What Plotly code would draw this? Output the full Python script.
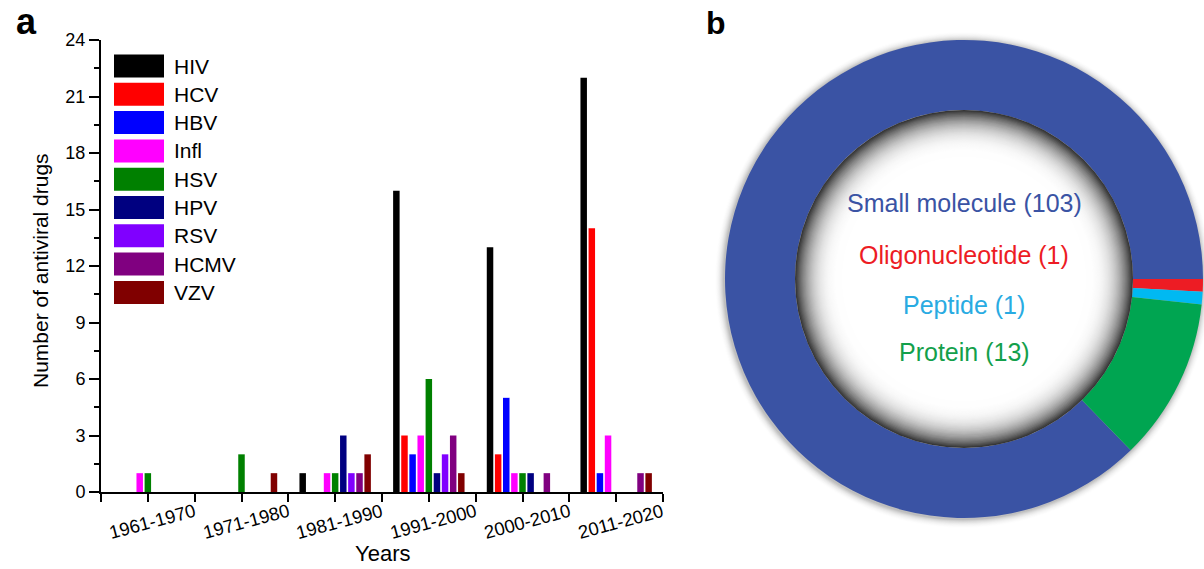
import plotly.graph_objects as go

W, H = 1204, 569

# ---- panel a: antiviral drugs approved per decade ----
decades = ["1961-1970", "1971-1980", "1981-1990", "1991-2000", "2000-2010", "2011-2020"]
viruses = ["HIV", "HCV", "HBV", "Infl", "HSV", "HPV", "RSV", "HCMV", "VZV"]
virus_colors = ["#000000", "#FF0000", "#0000FF", "#FF00FF", "#008000",
                "#000080", "#8000FF", "#800080", "#800000"]

hiv = [0, 0, 1, 16, 13, 22]
hcv = [0, 0, 0, 3, 2, 14]
hbv = [0, 0, 0, 2, 5, 1]
infl = [1, 0, 1, 3, 1, 3]
hsv = [1, 2, 1, 6, 1, 0]
hpv = [0, 0, 3, 1, 1, 0]
rsv = [0, 0, 1, 2, 0, 0]
hcmv = [0, 0, 1, 3, 1, 1]
vzv = [0, 1, 2, 1, 0, 1]
counts = [hiv, hcv, hbv, infl, hsv, hpv, rsv, hcmv, vzv]

y_ticks = [0, 3, 6, 9, 12, 15, 18, 21, 24]

# ---- panel b: drug modality ----
modalities = ["Small molecule", "Oligonucleotide", "Peptide", "Protein"]
modality_counts = [103, 1, 1, 13]
modality_colors = ["#3A53A4", "#ED1C24", "#00B9F2", "#00A551"]
modality_text_colors = ["#3A53A4", "#ED1C24", "#29ABE2", "#13A04B"]

FONT = "Liberation Sans, Arial, sans-serif"


def px_x(p):
    return p / W


def px_y(p):
    return 1 - p / H


fig = go.Figure()
xpos = list(range(len(decades)))
for name, vals, col in zip(viruses, counts, virus_colors):
    fig.add_trace(go.Bar(x=xpos, y=vals, name=name, marker=dict(color=col, line=dict(width=0)),
                         showlegend=False, xaxis="x", yaxis="y"))

# donut
total = sum(modality_counts)
first_span = modality_counts[0] / total * 360
fig.add_trace(go.Pie(values=modality_counts, labels=modalities, hole=0.707, sort=False,
                     direction="clockwise", rotation=90 - first_span + 360,
                     marker=dict(colors=modality_colors, line=dict(width=0)),
                     textinfo="none", showlegend=False,
                     domain=dict(x=[px_x(725), px_x(1203)], y=[px_y(518), px_y(40)])))

shapes = []
annotations = []

# legend swatches for panel a
row0, pitch = 66.0, 28.3
for i, (name, col) in enumerate(zip(viruses, virus_colors)):
    cy = row0 + i * pitch
    shapes.append(dict(type="rect", xref="paper", yref="paper",
                       x0=px_x(114), x1=px_x(164), y0=px_y(cy + 11.5), y1=px_y(cy - 11.5),
                       fillcolor=col, line=dict(width=0)))
    annotations.append(dict(text=name, xref="paper", yref="paper", x=px_x(172), y=px_y(cy),
                            xanchor="left", yanchor="middle", showarrow=False,
                            font=dict(family=FONT, size=21, color="black")))

# decade labels, tilted
for i, d in enumerate(decades):
    annotations.append(dict(text=d, xref="x", yref="paper", x=i, y=px_y(521), xshift=4,
                            xanchor="center", yanchor="middle", textangle=-15, showarrow=False,
                            font=dict(family=FONT, size=18.5, color="black")))

annotations.append(dict(text="Years", xref="paper", yref="paper", x=px_x(382), y=px_y(553),
                        xanchor="center", yanchor="middle", showarrow=False,
                        font=dict(family=FONT, size=22, color="black")))
annotations.append(dict(text="Number of antiviral drugs", xref="paper", yref="paper",
                        x=px_x(40), y=px_y(271), xanchor="center", yanchor="middle",
                        textangle=-90, showarrow=False,
                        font=dict(family=FONT, size=21, color="black")))
annotations.append(dict(text="<b>a</b>", xref="paper", yref="paper", x=px_x(26), y=px_y(22),
                        xanchor="center", yanchor="middle", showarrow=False,
                        font=dict(family=FONT, size=36, color="black")))
annotations.append(dict(text="<b>b</b>", xref="paper", yref="paper", x=px_x(716), y=px_y(23),
                        xanchor="center", yanchor="middle", showarrow=False,
                        font=dict(family=FONT, size=32, color="black")))

# donut: soft drop shadow around the ring and shaded hole
cx, cy, r_out, r_in = 964, 279, 239, 169
for k in range(10, 0, -1):
    g = int(255 - 80 * (1 - k / 10) ** 2)
    r = r_out + k
    shapes.append(dict(type="circle", xref="paper", yref="paper", layer="below",
                       x0=px_x(cx - r - 1), x1=px_x(cx + r - 1), y0=px_y(cy + r + 1), y1=px_y(cy - r + 1),
                       fillcolor=f"rgb({g},{g},{g})", line=dict(width=0)))
steps = 40
r_white = 122
for s in range(steps + 1):
    r = r_in - s * (r_in - r_white) / steps
    t = (r - r_white) / (r_in - r_white)
    g = int(255 - 200 * t ** 2.8)
    shapes.append(dict(type="circle", xref="paper", yref="paper", layer="above",
                       x0=px_x(cx - r), x1=px_x(cx + r), y0=px_y(cy + r), y1=px_y(cy - r),
                       fillcolor=f"rgb({g},{g},{g})", line=dict(width=0)))

# donut labels
label_rows = [203, 255, 305, 352]
for lab, val, col, yy in zip(modalities, modality_counts, modality_text_colors, label_rows):
    annotations.append(dict(text=f"{lab} ({val})", xref="paper", yref="paper", x=px_x(cx), y=px_y(yy),
                            xanchor="center", yanchor="middle", showarrow=False,
                            font=dict(family=FONT, size=25, color=col)))

fig.update_layout(
    width=W, height=H, margin=dict(l=0, r=0, t=0, b=0, autoexpand=False),
    paper_bgcolor="white", plot_bgcolor="white",
    barmode="group", bargap=0.22, bargroupgap=0.2,
    shapes=shapes, annotations=annotations,
    xaxis=dict(domain=[px_x(101), px_x(663)], range=[-0.5, len(decades) - 0.5],
               tickvals=[v / 2 - 0.5 for v in range(2 * len(decades) + 1)],
               ticktext=[""] * (2 * len(decades) + 1),
               ticks="outside", ticklen=8, tickwidth=2, tickcolor="black",
               showline=True, linecolor="black", linewidth=2, automargin=False,
               showgrid=False, zeroline=False, fixedrange=True),
    yaxis=dict(domain=[px_y(492), px_y(40)], range=[0, 24], tickvals=y_ticks,
               ticks="outside", ticklen=10, tickwidth=2, tickcolor="black",
               minor=dict(dtick=1.5, tick0=0, ticks="outside", ticklen=5, tickwidth=2, tickcolor="black"),
               showline=True, linecolor="black", linewidth=2, automargin=False,
               showgrid=False, zeroline=False,
               tickfont=dict(family=FONT, size=18, color="black"), fixedrange=True),
)

fig.write_html("out.html")
